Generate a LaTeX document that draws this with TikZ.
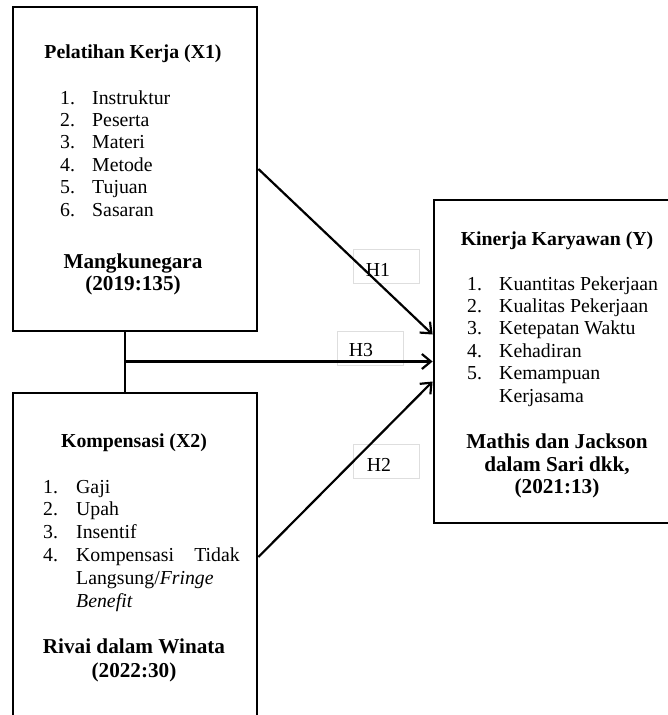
\documentclass[tikz,border=0pt]{standalone}
\usepackage{fontspec}
\setmainfont{Liberation Serif}
\usetikzlibrary{arrows.meta,positioning}
\tikzset{
  varbox/.style={draw,line width=2.8pt,inner sep=0pt},
  hyp/.style={line width=2.2pt,-{Straight Barb[length=9pt,width=15pt]}},
  labbox/.style={draw=black!13,line width=0.6pt,inner sep=0pt,minimum width=66pt,minimum height=34pt},
  txt/.style={font=\fontsize{19.8}{22.5}\selectfont,inner sep=0pt,anchor=base west},
  head/.style={font=\bfseries\fontsize{19.8}{22.5}\selectfont,inner sep=0pt,anchor=base},
  src/.style={font=\bfseries\fontsize{21.2}{23}\selectfont,inner sep=0pt,anchor=base},
  hlab/.style={font=\fontsize{19.8}{22.5}\selectfont,inner sep=0pt}
}
\begin{document}
\begin{tikzpicture}[x=1pt,y=-1pt]
  \useasboundingbox (0,0) rectangle (668,715);
  \clip (0,0) rectangle (668,715);
  % label frames
  \node[labbox] (f1) at (386,266) {}; \node[labbox] (f3) at (370,348) {}; \node[labbox] (f2) at (386,461) {};
  % variable boxes
  \node[varbox,minimum width=244pt,minimum height=324pt] (x1) at (135,169) {};
  \node[varbox,minimum width=244pt,minimum height=328pt] (x2) at (135,557) {};
  \node[varbox,minimum width=256pt,minimum height=323pt] (yk) at (562,361.5) {};
  % hypotheses
  \coordinate (j) at ([xshift=-10pt]x1.south |- yk.west);
  \draw[line width=2.6pt] ([xshift=-10pt]x1.south) -- ([xshift=-10pt]x2.north);
  \draw[hyp] (x1.east) -- ([yshift=27pt]yk.west);
  \draw[hyp] (j) -- (yk.west);
  \draw[hyp] (x2.east) -- ([yshift=-20pt]yk.west);
  \node[hlab] (h1) at (378,270) {H1}; \node[hlab] (h3) at (361,350) {H3}; \node[hlab] (h2) at (379,465) {H2};
  % X1
  \node[head] (t1) at (133,58) {Pelatihan Kerja (X1)};
  \foreach \i/\w in {1/Instruktur,2/Peserta,3/Materi,4/Metode,5/Tujuan,6/Sasaran}{
    \node[txt] (a\i) at (60,{81.6+22.4*\i}) {\i.};
    \node[txt] (b\i) at (92,{81.6+22.4*\i}) {\w};
  }
  \node[src] (s1) at (133,268) {Mangkunegara}; \node[src] (s1b) at (133,290) {(2019:135)};
  % X2
  \node[head] (t2) at (134,447) {Kompensasi (X2)};
  \foreach \i/\w in {1/Gaji,2/Upah,3/Insentif,4/Kompensasi}{
    \node[txt] (c\i) at (43,{470.2+22.8*\i}) {\i.};
    \node[txt] (d\i) at (76,{470.2+22.8*\i}) {\w};
  }
  \node[txt,anchor=base east] (d4b) at (240,561.4) {Tidak};
  \node[txt] (d5) at (76,584.2) {Langsung/\textit{Fringe}};
  \node[txt] (d6) at (76,607) {\textit{Benefit}};
  \node[src] (s2) at (134,653) {Rivai dalam Winata}; \node[src] (s2b) at (134,677) {(2022:30)};
  % Y
  \node[head] (t3) at (557,245) {Kinerja Karyawan (Y)};
  \foreach \i/\w in {1/Kuantitas Pekerjaan,2/Kualitas Pekerjaan,3/Ketepatan Waktu,4/Kehadiran,5/Kemampuan}{
    \node[txt] (e\i) at (467,{267.6+22.4*\i}) {\i.};
    \node[txt] (g\i) at (499,{267.6+22.4*\i}) {\w};
  }
  \node[txt] (g6) at (499,402) {Kerjasama};
  \node[src] (s3) at (557,448) {Mathis dan Jackson}; \node[src] (s3b) at (557,471) {dalam Sari dkk,};
  \node[src] (s3c) at (557,493) {(2021:13)};
\end{tikzpicture}
\end{document}
